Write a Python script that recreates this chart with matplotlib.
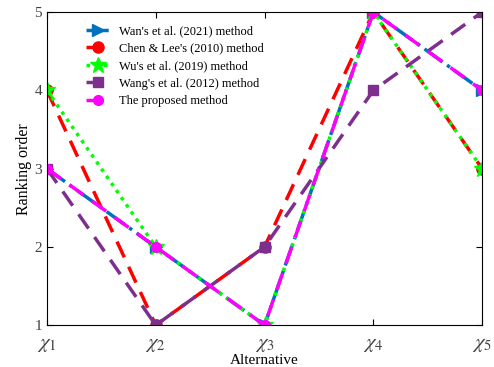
import matplotlib
matplotlib.use("Agg")
import matplotlib.pyplot as plt

plt.rcParams['font.family'] = ['Liberation Serif', 'DejaVu Serif']
plt.rcParams['mathtext.fontset'] = 'stix'

alternatives = [1, 2, 3, 4, 5]
xtick_labels = [r'$\chi_1$', r'$\chi_2$', r'$\chi_3$', r'$\chi_4$', r'$\chi_5$']
wan_2021 = [3, 2, 1, 5, 4]
chen_lee_2010 = [4, 1, 2, 5, 3]
wu_2019 = [4, 2, 1, 5, 3]
wang_2012 = [3, 1, 2, 4, 5]
proposed = [3, 2, 1, 5, 4]

fig = plt.figure(figsize=(4.94, 3.67), dpi=100)
ax = fig.add_axes([0.095, 0.114, 0.881, 0.853])

lw = 2.5
ax.plot(alternatives, wan_2021, color='#0072BD', linestyle='-.', marker='>', markersize=9, linewidth=lw,
        label="Wan's et al. (2021) method")
ax.plot(alternatives, chen_lee_2010, color='#FF0000', linestyle=(0, (5, 3)), marker='o', markersize=8, linewidth=lw,
        label="Chen & Lee's (2010) method")
ax.plot(alternatives, wu_2019, color='#00FF00', linestyle=(0, (1, 1.5)), marker='*', markersize=12, linewidth=lw,
        label="Wu's et al. (2019) method")
ax.plot(alternatives, wang_2012, color='#7E2F8E', linestyle=(0, (5, 3)), marker='s', markersize=7, linewidth=lw,
        label="Wang's et al. (2012) method")
ax.plot(alternatives, proposed, color='#FF00FF', linestyle=(0, (5, 3)), marker='o', markersize=7, linewidth=lw,
        label="The proposed method")

ax.set_xlim(1, 5)
ax.set_ylim(1, 5)
ax.set_xticks(alternatives)
ax.set_xticklabels(xtick_labels, fontsize=15, color='#404040')
ax.set_yticks([1, 2, 3, 4, 5])
ax.tick_params(axis='y', labelsize=11, labelcolor='#404040')
ax.tick_params(direction='in', top=True, right=True, length=4)
ax.tick_params(axis='x', pad=7)
ax.set_xlabel('Alternative', fontsize=11, labelpad=0)
ax.set_ylabel('Ranking order', fontsize=11.5, labelpad=2)

ax.legend(loc='upper left', bbox_to_anchor=(0.065, 0.995), frameon=False, fontsize=9,
          handlelength=1.8, labelspacing=0.45)

fig.savefig('out.png', dpi=100)
